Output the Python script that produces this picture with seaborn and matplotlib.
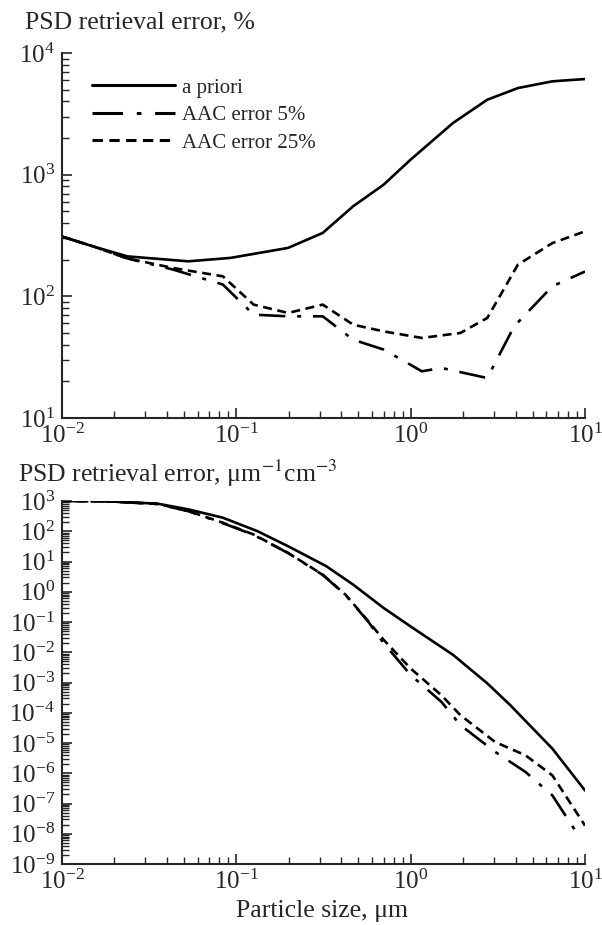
#!/usr/bin/env python3

import matplotlib
matplotlib.use("Agg")
import matplotlib.pyplot as plt
import matplotlib.ticker as mticker
import pandas as pd
import seaborn as sns

# top panel: PSD retrieval error, %
top_apriori_x = [0.01, 0.015, 0.0237, 0.053, 0.0927, 0.198, 0.313, 0.468, 0.70, 1.0, 1.75, 2.75, 4.12, 6.5, 10]
top_apriori_y = [310, 258, 213, 194, 207, 250, 332, 550, 828, 1330, 2660, 4130, 5150, 5850, 6110]

top_aac5_x = [0.01, 0.015, 0.0237, 0.0433, 0.0837, 0.1256, 0.198, 0.313, 0.468, 0.70, 1.16, 1.5, 2.75, 3.92, 6.5, 10]
top_aac5_y = [310, 258, 205, 166, 125, 70.7, 68.5, 68.5, 44, 36.5, 24.2, 25.8, 21.3, 56.6, 121, 160]

top_aac25_x = [0.01, 0.015, 0.0237, 0.0433, 0.0837, 0.1256, 0.198, 0.313, 0.468, 0.70, 1.16, 1.93, 2.75, 4.12, 6.5, 10]
top_aac25_y = [310, 258, 205, 171, 146, 85.5, 73, 85.5, 58.5, 51.5, 45.5, 50, 66.4, 182, 274, 342]

# bottom panel: PSD retrieval error, um^-1 cm^-3
bot_apriori_x = [0.0147, 0.0203, 0.0354, 0.053, 0.0837, 0.132, 0.198, 0.328, 0.468, 0.70, 1.0, 1.75, 2.75, 3.72, 6.5, 10]
bot_apriori_y = [1000, 950, 815, 530, 280, 101, 32, 7.0, 1.72, 0.29, 0.071, 0.0082, 9.4e-4, 1.8e-4, 6.5e-6, 2.7e-7]

bot_aac5_x = [0.01, 0.0203, 0.0354, 0.053, 0.0837, 0.1256, 0.198, 0.313, 0.423, 0.573, 0.70, 1.0, 1.5, 1.93, 3.05, 4.56, 6.5, 8.8, 10]
bot_aac5_y = [1000, 950, 790, 460, 185, 76, 19, 3.6, 0.78, 0.1, 0.02, 1.77e-3, 2.3e-4, 3.9e-5, 5.1e-6, 1.1e-6, 1.85e-7, 1.27e-8, 1.6e-8]

bot_aac25_x = [0.01, 0.0203, 0.0354, 0.053, 0.0837, 0.1256, 0.198, 0.313, 0.423, 0.573, 0.70, 1.0, 1.5, 1.93, 3.05, 4.56, 6.5, 10]
bot_aac25_y = [1000, 950, 800, 466, 191, 78, 19.3, 3.68, 0.8, 0.104, 0.0257, 0.0029, 3.8e-4, 8.3e-5, 1.08e-5, 3.9e-6, 8.5e-7, 1.86e-8]

labels = ["a priori", "AAC error 5%", "AAC error 25%"]


def long_df(xs, ys):
    parts = []
    for lab, x, y in zip(labels, xs, ys):
        parts.append(pd.DataFrame({"x": x, "y": y, "series": lab}))
    return pd.concat(parts, ignore_index=True)


df_top = long_df([top_apriori_x, top_aac5_x, top_aac25_x], [top_apriori_y, top_aac5_y, top_aac25_y])
df_bot = long_df([bot_apriori_x, bot_aac5_x, bot_aac25_x], [bot_apriori_y, bot_aac5_y, bot_aac25_y])

sns.set_style("ticks")
plt.rcParams["font.family"] = ["Liberation Serif", "DejaVu Serif"]
plt.rcParams["mathtext.fontset"] = "stix"

dashes = {"a priori": "", "AAC error 5%": (10, 4.5, 1.5, 4.5), "AAC error 25%": (3.4, 2.1)}
palette = {lab: "black" for lab in labels}

W, H = 602, 925
fig = plt.figure(figsize=(W / 100, H / 100), dpi=100)


def box(left, top, right, bottom):
    return [left / W, 1 - bottom / H, (right - left) / W, (bottom - top) / H]


ax1 = fig.add_axes(box(62, 53, 585, 418))
ax2 = fig.add_axes(box(62, 501, 585, 864))

for ax, df in [(ax1, df_top), (ax2, df_bot)]:
    sns.lineplot(data=df, x="x", y="y", hue="series", style="series", dashes=dashes,
                 palette=palette, estimator=None, sort=True, linewidth=1.9, ax=ax)
    ax.set_xscale("log")
    ax.set_yscale("log")
    ax.set_xlim(0.01, 10)
    ax.set_xlabel("")
    ax.set_ylabel("")
    sns.despine(ax=ax)
    ax.spines["left"].set_linewidth(1.5)
    ax.spines["bottom"].set_linewidth(1.5)
    ax.xaxis.set_minor_locator(mticker.LogLocator(subs=range(2, 10), numticks=20))
    ax.yaxis.set_major_locator(mticker.LogLocator(numticks=20))
    ax.yaxis.set_minor_locator(mticker.LogLocator(subs=range(2, 10), numticks=20))
    ax.yaxis.set_minor_formatter(mticker.NullFormatter())
    ax.xaxis.set_minor_formatter(mticker.NullFormatter())
    ax.tick_params(which="major", direction="in", length=7, width=1.2, labelsize=18, pad=4)
    ax.tick_params(which="minor", direction="in", length=5, width=1.0)
    ax.tick_params(axis="y", which="major", pad=5)

ax1.set_ylim(10, 1e4)
ax2.set_ylim(1e-9, 1e3)

leg = ax1.legend(loc="upper left", bbox_to_anchor=(92 / W, 1 - 78 / H), bbox_transform=fig.transFigure,
                 frameon=False, fontsize=15, borderpad=0, borderaxespad=0,
                 handlelength=4.0, handletextpad=0.33, labelspacing=0.38)
for line in leg.get_lines():
    line.set_linewidth(2.2)
ax2.get_legend().remove()

fig.text(25 / W, 1 - 28 / H, "PSD retrieval error, %", fontsize=18.5, ha="left", va="baseline")
fig.text(18 / W, 1 - 482 / H, r"PSD retrieval error, μm$^{-1}$cm$^{-3}$", fontsize=18.5,
         ha="left", va="baseline")
fig.text(322 / W, 1 - 917 / H, "Particle size, μm", fontsize=18.5, ha="center", va="baseline")

fig.savefig("out.png", dpi=100)
